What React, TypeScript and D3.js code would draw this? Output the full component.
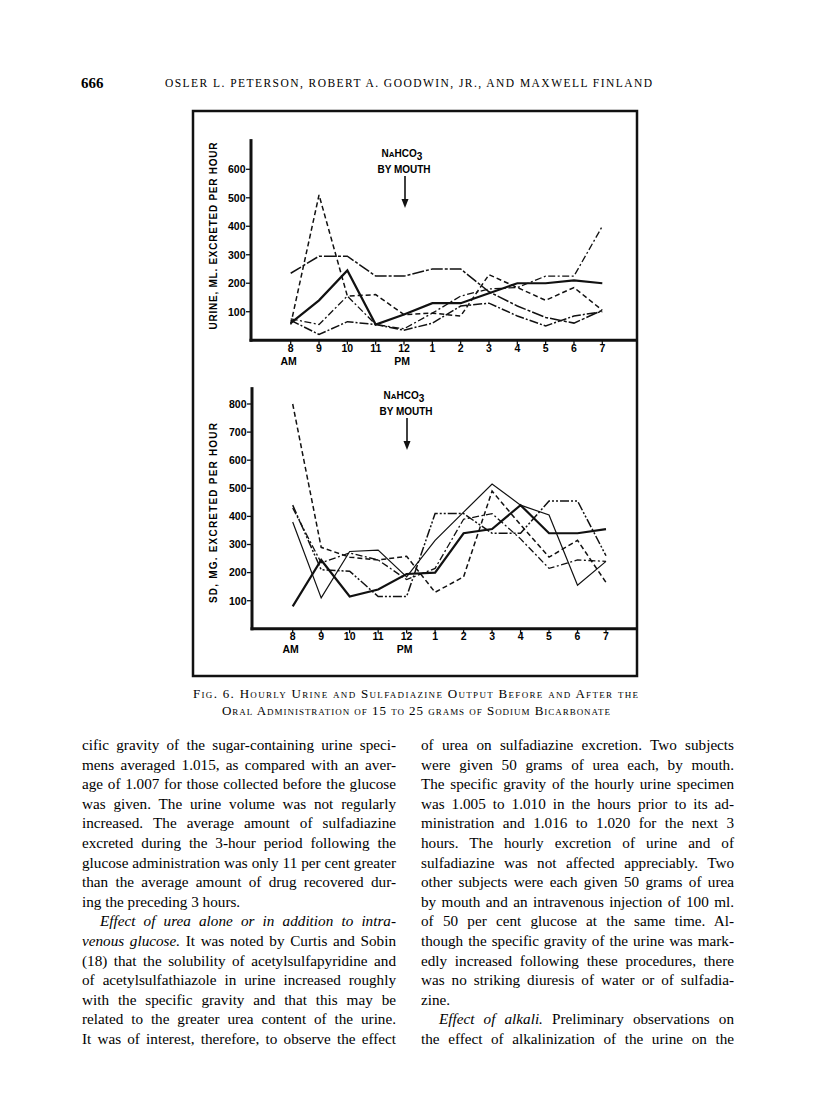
import React, { useLayoutEffect, useRef } from 'react';
import * as d3 from 'd3';

// hours along the bottom of both panels
const hours = ['8', '9', '10', '11', '12', '1', '2', '3', '4', '5', '6', '7'];

// upper panel: urine, ml. excreted per hour (one array per subject)
const urineDashDot = [75, 55, 155, 55, 40, 95, 155, 180, 185, 225, 225, 400];
const urineLongDash = [235, 295, 295, 225, 225, 250, 250, 170, 120, 80, 60, 105];
const urineSolid = [60, 140, 245, 55, 90, 130, 130, 165, 200, 200, 210, 200];
const urineDashed = [55, 510, 155, 160, 90, 95, 85, 230, 185, 140, 185, 105];
const urineLow = [70, 20, 65, 55, 35, 60, 120, 130, 85, 50, 85, 100];
const urineTicks = [100, 200, 300, 400, 500, 600];

// lower panel: sulfadiazine, mg. excreted per hour
const sdSolid = [80, 245, 115, 140, 195, 200, 340, 355, 440, 340, 340, 355];
const sdDashed = [800, 290, 255, 245, 258, 130, 185, 490, 370, 255, 315, 165];
const sdDashDotDot = [440, 210, 205, 115, 115, 410, 410, 340, 340, 455, 455, 260];
const sdThin = [380, 110, 275, 280, 185, 315, 415, 515, 440, 405, 155, 240];
const sdDashDot = [430, 235, 270, 245, 175, 215, 390, 410, 320, 215, 245, 240];
const sdTicks = [100, 200, 300, 400, 500, 600, 700, 800];

const headerNames = 'OSLER L. PETERSON, ROBERT A. GOODWIN, JR., AND MAXWELL FINLAND';
const captionLines = [
  'Fig. 6.  Hourly Urine and Sulfadiazine Output Before and After the',
  'Oral Administration of 15 to 25 grams of Sodium Bicarbonate',
];

// body text, one entry per printed line; italic parts marked with *
const leftColumn = [
  'cific gravity of the sugar-containing urine speci-',
  'mens averaged 1.015, as compared with an aver-',
  'age of 1.007 for those collected before the glucose',
  'was given. The urine volume was not regularly',
  'increased. The average amount of sulfadiazine',
  'excreted during the 3-hour period following the',
  'glucose administration was only 11 per cent greater',
  'than the average amount of drug recovered dur-',
  'ing the preceding 3 hours.',
  '*Effect of urea alone or in addition to intra-*',
  '*venous glucose.* It was noted by Curtis and Sobin',
  '(18) that the solubility of acetylsulfapyridine and',
  'of acetylsulfathiazole in urine increased roughly',
  'with the specific gravity and that this may be',
  'related to the greater urea content of the urine.',
  'It was of interest, therefore, to observe the effect',
];
const rightColumn = [
  'of urea on sulfadiazine excretion. Two subjects',
  'were given 50 grams of urea each, by mouth.',
  'The specific gravity of the hourly urine specimen',
  'was 1.005 to 1.010 in the hours prior to its ad-',
  'ministration and 1.016 to 1.020 for the next 3',
  'hours. The hourly excretion of urine and of',
  'sulfadiazine was not affected appreciably. Two',
  'other subjects were each given 50 grams of urea',
  'by mouth and an intravenous injection of 100 ml.',
  'of 50 per cent glucose at the same time. Al-',
  'though the specific gravity of the urine was mark-',
  'edly increased following these procedures, there',
  'was no striking diuresis of water or of sulfadia-',
  'zine.',
  '*Effect of alkali.* Preliminary observations on',
  'the effect of alkalinization of the urine on the',
];
const leftLast = [8];
const leftIndent = [9];
const rightLast = [13];
const rightIndent = [14];

const sans = '"Liberation Sans", Arial, sans-serif';
const serif = '"Liberation Serif", "DejaVu Serif", serif';

type Line = { values: number[]; dash: string; width: number };

type PanelProps = {
  x0: number;
  x1: number;
  yZero: number;
  yMax: number;
  yMaxPx: number;
  axisX: number;
  axisTopVal: number;
  ticks: number[];
  lines: Line[];
  title: string;
  titleY: number;
  titleLen: number;
  noteX: number;
  noteY: number;
};

function Panel(p: PanelProps) {
  const x = d3.scaleLinear().domain([0, hours.length - 1]).range([p.x0, p.x1]);
  const y = d3.scaleLinear().domain([0, p.yMax]).range([p.yZero, p.yMaxPx]);
  const line = d3
    .line<number>()
    .x((_, i) => x(i))
    .y((d) => y(d));

  return (
    <g>
      {p.lines.map((l, i) => (
        <path
          key={i}
          d={line(l.values) || ''}
          fill="none"
          stroke="#111"
          strokeWidth={l.width}
          strokeDasharray={l.dash}
          strokeLinejoin="miter"
        />
      ))}
      {/* axes */}
      <line x1={p.axisX} x2={p.axisX} y1={y(0) + 1.5} y2={y(p.axisTopVal)} stroke="#111" strokeWidth={3} />
      <line x1={p.axisX - 1.5} x2={637} y1={y(0)} y2={y(0)} stroke="#111" strokeWidth={3} />
      {p.ticks.map((t) => (
        <g key={t}>
          <line x1={p.axisX - 5} x2={p.axisX} y1={y(t)} y2={y(t)} stroke="#111" strokeWidth={1.3} />
          <text
            x={p.axisX - 5.5}
            y={y(t) + 3.8}
            textAnchor="end"
            fontFamily={sans}
            fontWeight="bold"
            fontSize={10.5}
          >
            {t}
          </text>
        </g>
      ))}
      {hours.map((h, i) => (
        <g key={h}>
          <line x1={x(i)} x2={x(i)} y1={y(0)} y2={y(0) + 4.5} stroke="#111" strokeWidth={1.3} />
          <text
            x={x(i)}
            y={y(0) + 11.5}
            textAnchor="middle"
            fontFamily={sans}
            fontWeight="bold"
            fontSize={10.5}
          >
            {h}
          </text>
        </g>
      ))}
      <text x={x(0) - 2} y={y(0) + 24.5} textAnchor="middle" fontFamily={sans} fontWeight="bold" fontSize={10.5}>
        AM
      </text>
      <text x={x(4) - 2} y={y(0) + 24.5} textAnchor="middle" fontFamily={sans} fontWeight="bold" fontSize={10.5}>
        PM
      </text>
      <text
        transform={`translate(213,${p.titleY}) rotate(-90)`}
        textAnchor="middle"
        dominantBaseline="central"
        fontFamily={sans}
        fontWeight="bold"
        fontSize={10}
        textLength={p.titleLen}
        lengthAdjust="spacing"
      >
        {p.title}
      </text>
      {/* NaHCO3 by mouth note and arrow */}
      <text x={p.noteX - 2} y={p.noteY} textAnchor="middle" fontFamily={sans} fontWeight="bold" fontSize={10}>
        N<tspan fontSize={8}>A</tspan>HCO<tspan dy={3}>3</tspan>
      </text>
      <text x={p.noteX} y={p.noteY + 15.5} textAnchor="middle" fontFamily={sans} fontWeight="bold" fontSize={10}>
        BY MOUTH
      </text>
      <line x1={p.noteX + 1} x2={p.noteX + 1} y1={p.noteY + 19} y2={p.noteY + 46} stroke="#111" strokeWidth={1.6} />
      <path
        d={`M${p.noteX - 2.5},${p.noteY + 42} L${p.noteX + 4.5},${p.noteY + 42} L${p.noteX + 1},${p.noteY + 51} Z`}
        fill="#111"
      />
    </g>
  );
}

function Para({ lines, x, right, top, last, indent }: { lines: string[]; x: number; right: number; top: number; last: number[]; indent: number[] }) {
  return (
    <g>
      {lines.map((ln, i) => {
        const parts = ln.split('*');
        const lx = indent.includes(i) ? x + 18 : x;
        return (
          <text
            key={i}
            className={last.includes(i) ? 'plain' : 'just'}
            data-width={right - lx}
            x={lx}
            y={top + i * 19.6}
            fontFamily={serif}
            fontSize={15.2}
          >
            {parts.map((s, j) => (
              <tspan key={j} fontStyle={j % 2 === 1 ? 'italic' : 'normal'}>
                {s}
              </tspan>
            ))}
          </text>
        );
      })}
    </g>
  );
}

export default function App() {
  const ref = useRef<SVGSVGElement>(null);

  useLayoutEffect(() => {
    if (!ref.current) return;
    d3.select(ref.current)
      .selectAll<SVGTextElement, unknown>('text.just')
      .each(function () {
        const target = +(this.getAttribute('data-width') || 0);
        const txt = this.textContent || '';
        const spaces = (txt.match(/ /g) || []).length;
        const len = this.getComputedTextLength();
        if (spaces > 0) this.setAttribute('word-spacing', String((target - len) / spaces));
      });
  }, []);

  const urineLines: Line[] = [
    { values: urineDashDot, dash: '7,2.5,2,2.5', width: 1.3 },
    { values: urineLongDash, dash: '12,2,3,2', width: 1.5 },
    { values: urineSolid, dash: '', width: 2.2 },
    { values: urineDashed, dash: '5,3', width: 1.5 },
    { values: urineLow, dash: '9,2,2,2', width: 1.5 },
  ];
  const sdLines: Line[] = [
    { values: sdSolid, dash: '', width: 2.2 },
    { values: sdDashed, dash: '5,3', width: 1.5 },
    { values: sdDashDotDot, dash: '9,2,2,2,2,2', width: 1.5 },
    { values: sdThin, dash: '', width: 1.2 },
    { values: sdDashDot, dash: '7,2.5,2,2.5', width: 1.3 },
  ];

  return (
    <svg
      ref={ref}
      width={816}
      height={1101}
      style={{ position: 'absolute', left: 0, top: 0, background: '#fff' }}
    >
      <rect width={816} height={1101} fill="#fff" />
      {/* running head */}
      <text x={81} y={88} fontFamily={serif} fontSize={15} fontWeight="bold">
        666
      </text>
      <text x={165} y={87} fontFamily={serif} fontSize={11.5} textLength={487} lengthAdjust="spacing">
        {headerNames}
      </text>

      {/* figure frame */}
      <rect x={193} y={111} width={444} height={565} fill="none" stroke="#111" strokeWidth={2.5} />

      <Panel
        x0={290.7}
        x1={602.3}
        yZero={340.2}
        yMax={600}
        yMaxPx={169.3}
        axisX={251}
        axisTopVal={706}
        ticks={urineTicks}
        lines={urineLines}
        title="URINE,  ML. EXCRETED PER HOUR"
        titleY={236}
        titleLen={187}
        noteX={404}
        noteY={157}
      />
      <Panel
        x0={292.7}
        x1={606}
        yZero={628.8}
        yMax={800}
        yMaxPx={404}
        axisX={252}
        axisTopVal={860}
        ticks={sdTicks}
        lines={sdLines}
        title="SD, MG. EXCRETED PER HOUR"
        titleY={513}
        titleLen={180}
        noteX={406}
        noteY={399}
      />

      {/* caption */}
      <text x={193} y={698} fontFamily={serif} fontSize={13} style={{ fontVariant: 'small-caps' }} textLength={445} lengthAdjust="spacing">
        {captionLines[0]}
      </text>
      <text x={222} y={715} fontFamily={serif} fontSize={13} style={{ fontVariant: 'small-caps' }} textLength={388} lengthAdjust="spacing">
        {captionLines[1]}
      </text>

      <Para lines={leftColumn} x={82} right={396} top={750} last={leftLast} indent={leftIndent} />
      <Para lines={rightColumn} x={421} right={734} top={750} last={rightLast} indent={rightIndent} />
    </svg>
  );
}
